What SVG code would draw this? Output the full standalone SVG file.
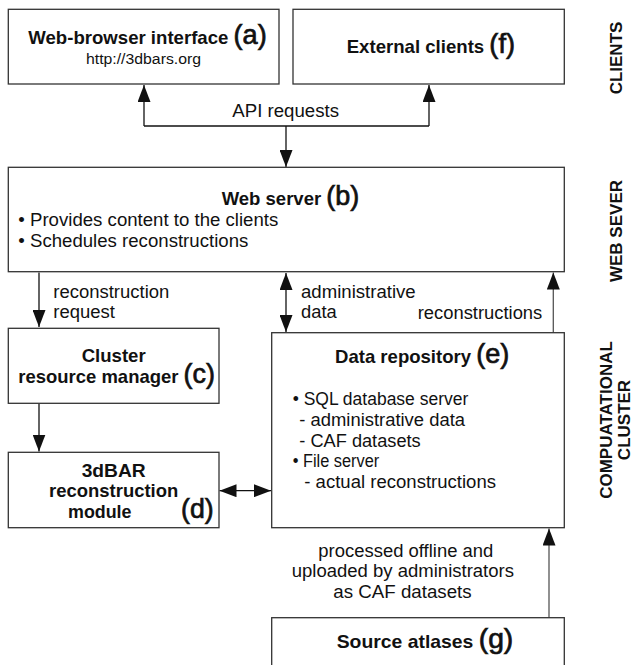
<svg xmlns="http://www.w3.org/2000/svg" width="644" height="665" viewBox="0 0 644 665">
<style>
text{font-family:"Liberation Sans",Arial,sans-serif;fill:#111}
.b{font-weight:bold;font-size:18.5px}
.r{font-size:17.5px}
.u{font-size:15.5px}
.lt{font-size:27px;font-weight:normal;stroke:#111;stroke-width:0.7}
.side{font-weight:bold;font-size:17px}
.box{fill:#fff;stroke:#333;stroke-width:1.3}
.c{fill:none;stroke:#111;stroke-width:1.3}
.g{stroke:#555}
</style>
<defs>
<marker id="ah" markerUnits="userSpaceOnUse" markerWidth="18" markerHeight="13" refX="17" refY="6.5" orient="auto-start-reverse" viewBox="0 0 18 13">
<path d="M0,0 L17,6.5 L0,13 z" fill="#111"/>
</marker>
</defs>
<rect width="644" height="665" fill="#fff"/>
<g id="connectors">
<path class="c" d="M144,126 H429"/>
<path class="c" d="M144,126 V85" marker-end="url(#ah)"/>
<path class="c" d="M429,126 V85" marker-end="url(#ah)"/>
<path class="c" d="M286,126 V167" marker-end="url(#ah)"/>
<path class="c" d="M39,272.5 V327" marker-end="url(#ah)"/>
<path class="c" d="M286,273 V332" marker-start="url(#ah)" marker-end="url(#ah)"/>
<path class="c g" d="M553.3,332.7 V272.5" marker-end="url(#ah)"/>
<path class="c" d="M39,403.5 V451.5" marker-end="url(#ah)"/>
<path class="c" d="M219.5,490.7 H271" marker-start="url(#ah)" marker-end="url(#ah)"/>
<path class="c g" d="M549,617.7 V528.5" marker-end="url(#ah)"/>
</g>
<g id="node-a">
<rect class="box" x="8.3" y="9.3" width="270.7" height="74.7"/>
<text class="b" x="28.3" y="44.3" textLength="238.4" lengthAdjust="spacingAndGlyphs">Web-browser interface <tspan class="lt">(a)</tspan></text>
<text class="u" x="86" y="64.3" textLength="115" lengthAdjust="spacingAndGlyphs">http://3dbars.org</text>
</g>
<g id="node-f">
<rect class="box" x="293" y="9.3" width="271.3" height="74.7"/>
<text class="b" x="346.7" y="53.3" textLength="168.3" lengthAdjust="spacingAndGlyphs">External clients <tspan class="lt">(f)</tspan></text>
</g>
<text class="r" x="232.3" y="116.7" textLength="106.7" lengthAdjust="spacingAndGlyphs">API requests</text>
<g id="node-b">
<rect class="box" x="8.3" y="167.3" width="556" height="104.4"/>
<text class="b" x="221.7" y="205" textLength="137.6" lengthAdjust="spacingAndGlyphs">Web server <tspan class="lt">(b)</tspan></text>
<text class="r" x="18.3" y="225.7" textLength="260" lengthAdjust="spacingAndGlyphs">• Provides content to the clients</text>
<text class="r" x="18.3" y="246.7" textLength="230" lengthAdjust="spacingAndGlyphs">• Schedules reconstructions</text>
</g>
<text class="r" x="53.3" y="297.7" textLength="116" lengthAdjust="spacingAndGlyphs">reconstruction</text>
<text class="r" x="53.3" y="318.3" textLength="61.7" lengthAdjust="spacingAndGlyphs">request</text>
<text class="r" x="301" y="297.7" textLength="114.7" lengthAdjust="spacingAndGlyphs">administrative</text>
<text class="r" x="301" y="318.3" textLength="35.7" lengthAdjust="spacingAndGlyphs">data</text>
<text class="r" x="417.7" y="319" textLength="124.6" lengthAdjust="spacingAndGlyphs">reconstructions</text>
<g id="node-c">
<rect class="box" x="8.3" y="328.3" width="210.7" height="75"/>
<text class="b" x="81.7" y="362.3" textLength="64" lengthAdjust="spacingAndGlyphs">Cluster</text>
<text class="b" x="18.3" y="382.7" textLength="196.7" lengthAdjust="spacingAndGlyphs">resource manager <tspan class="lt">(c)</tspan></text>
</g>
<g id="node-d">
<rect class="box" x="8.3" y="452.3" width="210.7" height="75.4"/>
<text class="b" x="81.7" y="476.7" textLength="64" lengthAdjust="spacingAndGlyphs">3dBAR</text>
<text class="b" x="49" y="496.7" textLength="129.3" lengthAdjust="spacingAndGlyphs">reconstruction</text>
<text class="b" x="68" y="517.7" textLength="63.5" lengthAdjust="spacingAndGlyphs">module</text>
<text class="lt" x="181" y="517.7" textLength="32.6" lengthAdjust="spacingAndGlyphs">(d)</text>
</g>
<g id="node-e">
<rect class="box" x="271.7" y="332.7" width="292.6" height="195"/>
<text class="b" x="335" y="363.3" textLength="174.3" lengthAdjust="spacingAndGlyphs">Data repository <tspan class="lt">(e)</tspan></text>
<text class="r" x="292.7" y="405" textLength="175.6" lengthAdjust="spacingAndGlyphs">• SQL database server</text>
<text class="r" x="299.3" y="426" textLength="165.7" lengthAdjust="spacingAndGlyphs">- administrative data</text>
<text class="r" x="299.3" y="446.7" textLength="121.4" lengthAdjust="spacingAndGlyphs">- CAF datasets</text>
<text class="r" x="292.7" y="467.3" textLength="86.6" lengthAdjust="spacingAndGlyphs">• File server</text>
<text class="r" x="304.3" y="487.7" textLength="191.7" lengthAdjust="spacingAndGlyphs">- actual reconstructions</text>
</g>
<text class="r" x="318.3" y="556.7" textLength="175" lengthAdjust="spacingAndGlyphs">processed offline and</text>
<text class="r" x="291.7" y="577.3" textLength="222.3" lengthAdjust="spacingAndGlyphs">uploaded by administrators</text>
<text class="r" x="333.3" y="597.7" textLength="138.4" lengthAdjust="spacingAndGlyphs">as CAF datasets</text>
<g id="node-g">
<rect class="box" x="271.7" y="617.7" width="292.6" height="70"/>
<text class="b" x="336.7" y="648.3" textLength="176.6" lengthAdjust="spacingAndGlyphs">Source atlases  <tspan class="lt">(g)</tspan></text>
</g>
<g id="side-labels">
<text class="side" transform="translate(622,58) rotate(-90)" text-anchor="middle">CLIENTS</text>
<text class="side" transform="translate(622,231) rotate(-90)" text-anchor="middle">WEB SEVER</text>
<text class="side" transform="translate(612,420) rotate(-90)" text-anchor="middle">COMPUATATIONAL</text>
<text class="side" transform="translate(630,420) rotate(-90)" text-anchor="middle">CLUSTER</text>
</g>
</svg>
